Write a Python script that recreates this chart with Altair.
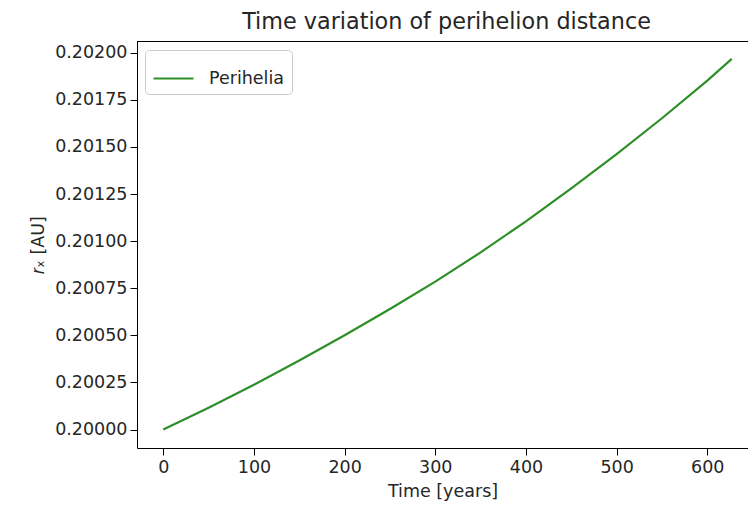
import altair as alt
import pandas as pd

years = [0, 50, 100, 150, 200, 250, 300, 350, 400, 450, 500, 550, 600, 627]
perihelia = [0.200000, 0.200116, 0.200238, 0.200366, 0.200500, 0.200640, 0.200785,
             0.200940, 0.201105, 0.201280, 0.201462, 0.201652, 0.201852, 0.201967]
series = ["Perihelia"] * len(years)
x_ticks = [0, 100, 200, 300, 400, 500, 600]
y_ticks = [0.20000, 0.20025, 0.20050, 0.20075, 0.20100, 0.20125, 0.20150, 0.20175, 0.20200]

df = pd.DataFrame({"t": years, "r": perihelia, "s": series})

FONT = "DejaVu Sans"
TXT = "#262626"
W = 611
H = 407

line = alt.Chart(df).mark_line(strokeWidth=2.2).encode(
    x=alt.X("t:Q",
            scale=alt.Scale(domain=[-29, 644.9], nice=False, zero=False),
            axis=alt.Axis(title="Time [years]", values=x_ticks, format="d",
                          grid=False, tickSize=7, labelPadding=3, titlePadding=7,
                          domainColor="black", tickColor="black",
                          labelFont=FONT, labelFontSize=17.5, labelColor=TXT,
                          titleFont=FONT, titleFontSize=17.5, titleFontWeight="normal",
                          titleColor=TXT, labelFlush=False)),
    y=alt.Y("r:Q",
            scale=alt.Scale(domain=[0.199902, 0.202062], nice=False, zero=False),
            axis=alt.Axis(title="𝑟ₓ [AU]", values=y_ticks, format=".5f",
                          grid=False, tickSize=7, labelPadding=3, titlePadding=7,
                          domainColor="black", tickColor="black",
                          labelFont=FONT, labelFontSize=17.5, labelColor=TXT,
                          titleFont=FONT, titleFontSize=17.5, titleFontWeight="normal",
                          titleColor=TXT, labelFlush=False)),
    color=alt.Color("s:N",
                    scale=alt.Scale(domain=["Perihelia"], range=["#2d8f27"]),
                    legend=alt.Legend(title=None, orient="none", legendX=8, legendY=9,
                                      symbolType="stroke", symbolSize=1600,
                                      symbolStrokeWidth=2.2, labelFont=FONT,
                                      labelFontSize=17.5, labelColor=TXT,
                                      labelOffset=14, padding=7,
                                      strokeColor="#cccccc", fillColor="white",
                                      cornerRadius=4)),
)

top_spine = alt.Chart(df).mark_rule(color="black", strokeWidth=1).encode(
    x=alt.value(0), x2=alt.value(W), y=alt.value(0.5)
)

chart = alt.layer(line, top_spine).properties(
    width=W,
    height=H,
    title=alt.TitleParams("Time variation of perihelion distance", font=FONT,
                          fontSize=22.3, fontWeight="normal", color=TXT,
                          anchor="middle", offset=8, frame="group", dx=4),
    autosize=alt.AutoSizeParams(type="none"),
    padding={"left": 137, "top": 41, "right": 0, "bottom": 63},
).configure_view(stroke=None).configure(background="white")

chart.save("out.html", embed_options={"renderer": "svg", "actions": False})
